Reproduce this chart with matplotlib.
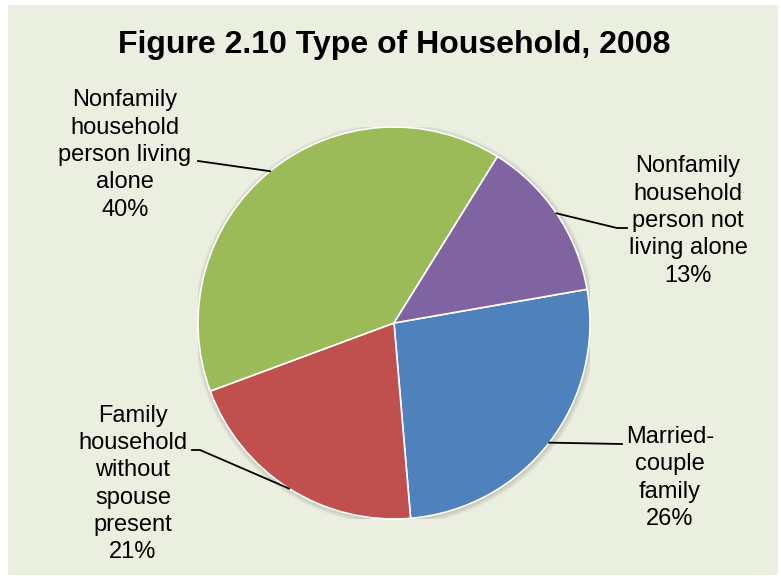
import numpy as np
import matplotlib
matplotlib.use("Agg")
import matplotlib.pyplot as plt
from matplotlib.patches import Rectangle, Circle

# data
categories = ["Married-\ncouple\nfamily",
              "Family\nhousehold\nwithout\nspouse\npresent",
              "Nonfamily\nhousehold\nperson living\nalone",
              "Nonfamily\nhousehold\nperson not\nliving alone"]
shares = [26.4, 20.7, 39.5, 13.4]
colors = ["#4F81BD", "#C0504D", "#9BBB59", "#8064A2"]

plt.rcParams['font.family'] = ['Liberation Sans', 'DejaVu Sans']

W, H = 781, 578
fig = plt.figure(figsize=(W / 100, H / 100), dpi=100)
fig.patch.set_facecolor("white")
fig.patches.append(Rectangle((8 / W, 3 / H), 770 / W, 570 / H, transform=fig.transFigure,
                             facecolor="#EBEFDF", edgecolor="none", zorder=-5))

# pie centre (394, 323) px, radius 196 px
cx, cy, r = 394, 323, 196
ax = fig.add_axes([(cx - r) / W, (H - cy - r) / H, 2 * r / W, 2 * r / H])

def px(x, y):
    return (x - cx) / r, (cy - y) / r

# soft shadow
for k in range(6):
    ax.add_patch(Circle((0.004, -0.006), 1.0 + k * 0.005, color="#606060", alpha=0.05,
                        lw=0, zorder=0))

wedges, _ = ax.pie(shares, colors=colors, startangle=9.9, counterclock=False, radius=1,
                   wedgeprops=dict(edgecolor="white", linewidth=1.2))
for w in wedges:
    w.set_zorder(2)
ax.set_xlim(-1, 1)
ax.set_ylim(-1, 1)
ax.set_aspect("equal")
ax.axis("off")

# label placement: text centre, elbow points (pixels)
label_pos = [(670, 478), (133, 484), (125, 155), (688, 221)]
elbows = [[(622, 444)],
          [(200, 450), (192, 450)],
          [(198, 161)],
          [(617, 228), (627, 228)]]

for w, cat, s, pos, elb in zip(wedges, categories, shares, label_pos, elbows):
    mid = np.deg2rad((w.theta1 + w.theta2) / 2)
    xs = [np.cos(mid)] + [px(*p)[0] for p in elb]
    ys = [np.sin(mid)] + [px(*p)[1] for p in elb]
    ax.plot(xs, ys, color="black", lw=1.3, clip_on=False, zorder=3)
    tx, ty = px(*pos)
    ax.text(tx, ty, f"{cat}\n{round(s)}%", ha="center", va="center", fontsize=17,
            linespacing=1.31, color="black", clip_on=False)

fig.text(394 / W, 1 - 45 / H, "Figure 2.10 Type of Household, 2008", ha="center", va="center",
         fontsize=23, fontweight="bold", color="black")

fig.savefig("out.png", dpi=100)
